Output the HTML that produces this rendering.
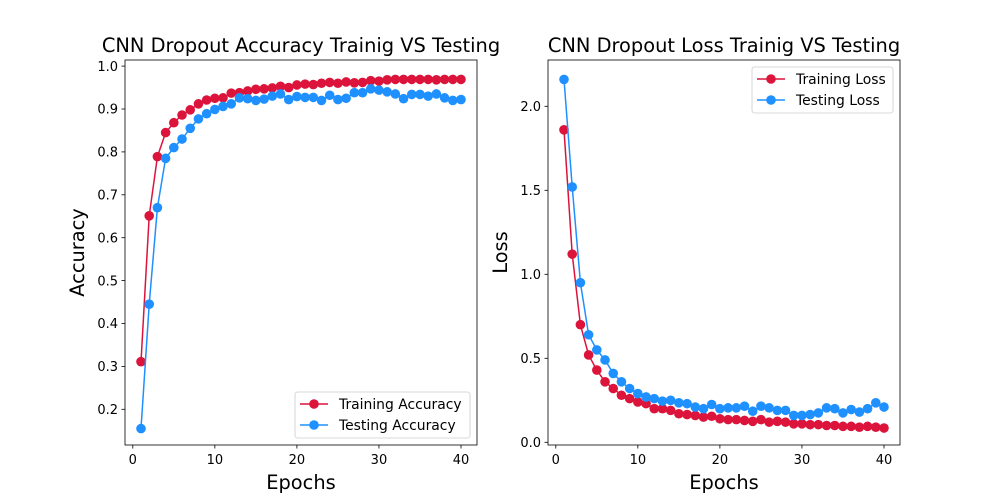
<!DOCTYPE html>
<html><head><meta charset="utf-8"><style>
body{margin:0;background:#fff;}
svg{display:block;font-family:"DejaVu Sans","Liberation Sans",sans-serif;}
</style></head><body>
<svg id="chart" width="1000" height="500" viewBox="0 0 1000 500" xmlns="http://www.w3.org/2000/svg"></svg>
<script>
const epochs = Array.from({length:40},(_,i)=>i+1);
const trainAcc = [0.311,0.651,0.789,0.845,0.868,0.886,0.898,0.912,0.921,0.925,0.926,0.937,0.938,0.942,0.946,0.947,0.949,0.953,0.950,0.956,0.958,0.957,0.960,0.962,0.960,0.963,0.961,0.962,0.966,0.965,0.968,0.969,0.969,0.969,0.969,0.969,0.968,0.969,0.969,0.969];
const testAcc = [0.155,0.445,0.670,0.785,0.810,0.830,0.855,0.877,0.889,0.899,0.906,0.912,0.926,0.924,0.920,0.923,0.930,0.935,0.922,0.929,0.927,0.927,0.920,0.932,0.922,0.925,0.938,0.938,0.947,0.944,0.940,0.935,0.924,0.934,0.934,0.930,0.935,0.926,0.920,0.922];
const trainLoss = [1.86,1.12,0.70,0.52,0.43,0.36,0.32,0.28,0.26,0.24,0.23,0.20,0.20,0.19,0.17,0.165,0.16,0.15,0.155,0.14,0.135,0.135,0.13,0.125,0.135,0.12,0.125,0.12,0.11,0.11,0.105,0.105,0.10,0.10,0.095,0.095,0.09,0.095,0.09,0.085];
const testLoss = [2.16,1.52,0.95,0.64,0.55,0.49,0.41,0.36,0.32,0.29,0.27,0.26,0.245,0.25,0.235,0.23,0.21,0.20,0.225,0.20,0.205,0.205,0.215,0.185,0.215,0.205,0.19,0.19,0.16,0.16,0.165,0.175,0.205,0.20,0.175,0.195,0.18,0.20,0.235,0.21];
const xTicks = [0,10,20,30,40];
const accTicks = [0.2,0.3,0.4,0.5,0.6,0.7,0.8,0.9,1.0];
const lossTicks = [0.0,0.5,1.0,1.5,2.0];

const svg = document.getElementById('chart');
const NS='http://www.w3.org/2000/svg';
function mk(tag, attrs, parent){const e=document.createElementNS(NS,tag);for(const k in attrs)e.setAttribute(k,attrs[k]);(parent||svg).appendChild(e);return e;}
const RED='#dc143c', BLUE='#1e90ff';

function panel(cfg){
  const g=mk('g',{});
  
  
  const {x0,x1,y0,y1}=cfg;
  const xs=v=>x0+(v-(-0.95))/(42.9)*(x1-x0);
  const ys=v=>cfg.yZero - (v-cfg.yBase)*cfg.yScale;
  xTicks.forEach(t=>{
    const X=xs(t);
    mk('line',{x1:X,x2:X,y1:y1,y2:y1+3.5,stroke:'#000','stroke-width':0.8},g);
    const tx=mk('text',{x:X,y:y1+19,'font-size':13,'text-anchor':'middle',fill:'#000'},g);
    
    
    tx.textContent=t;
  });
  cfg.yTicks.forEach(t=>{
    const Y=ys(t);
    mk('line',{x1:x0-3.5,x2:x0,y1:Y,y2:Y,stroke:'#000','stroke-width':0.8},g);
    const tx=mk('text',{x:x0-7,y:Y+4.7,'font-size':13,'text-anchor':'end',fill:'#000'},g);
    
    
    tx.textContent=t.toFixed(1);
  });
  cfg.series.forEach(s=>{
    const sg=mk('g',{},g);
    
    
    const pts=epochs.map((e,i)=>xs(e)+','+ys(s.data[i])).join(' ');
    mk('polyline',{points:pts,fill:'none',stroke:s.color,'stroke-width':1.5},sg);
    epochs.forEach((e,i)=>{
      const c=mk('circle',{cx:xs(e),cy:ys(s.data[i]),r:4.8,fill:s.color},sg);
      
      
    });
  });
  const frame=mk('rect',{x:x0,y:y0,width:x1-x0,height:y1-y0,fill:'none',stroke:'#000','stroke-width':0.8},g);
  
  
  const title=mk('text',{x:(x0+x1)/2,y:y0-8,'font-size':19.4,'text-anchor':'middle',fill:'#000'},g);
  
  
  title.textContent=cfg.title;
  const xl=mk('text',{x:(x0+x1)/2,y:489,'font-size':19.4,'text-anchor':'middle',fill:'#000'},g);
  
  
  xl.textContent='Epochs';
  const yl=mk('text',{x:0,y:0,'font-size':19.4,'text-anchor':'middle',fill:'#000',transform:`translate(${cfg.ylX},${(y0+y1)/2}) rotate(-90)`},g);
  
  
  yl.textContent=cfg.ylabel;
  const L=cfg.legend;
  const lg=mk('g',{},g);
  
  
  mk('rect',{x:L.x,y:L.y,width:L.w,height:46,rx:2.5,fill:'#fff',stroke:'#ccc','stroke-width':0.8},lg);
  cfg.series.forEach((s,i)=>{
    const Y=L.y+12+i*21;
    const eg=mk('g',{},lg);
    
    
    mk('line',{x1:L.x+5,x2:L.x+33,y1:Y,y2:Y,stroke:s.color,'stroke-width':1.5},eg);
    mk('circle',{cx:L.x+19,cy:Y,r:4.8,fill:s.color},eg);
    const t=mk('text',{x:L.x+44,y:Y+5,'font-size':13.9,fill:'#000'},eg);
    t.textContent=s.label;
  });
}
panel({name:'accuracy-chart',x0:125,x1:477,y0:60,y1:445,yZero:409.3,yBase:0.2,yScale:429,yTicks:accTicks,
  title:'CNN Dropout Accuracy Trainig VS Testing',ylabel:'Accuracy',ylX:84,
  legend:{x:295,y:392,w:175},
  series:[{name:'training-accuracy-series',label:'Training Accuracy',color:RED,data:trainAcc},
          {name:'testing-accuracy-series',label:'Testing Accuracy',color:BLUE,data:testAcc}]});
panel({name:'loss-chart',x0:548,x1:900,y0:60,y1:445,yZero:442.3,yBase:0,yScale:168,yTicks:lossTicks,
  title:'CNN Dropout Loss Trainig VS Testing',ylabel:'Loss',ylX:507,
  legend:{x:752,y:67,w:141},
  series:[{name:'training-loss-series',label:'Training Loss',color:RED,data:trainLoss},
          {name:'testing-loss-series',label:'Testing Loss',color:BLUE,data:testLoss}]});
</script>
</body></html>
